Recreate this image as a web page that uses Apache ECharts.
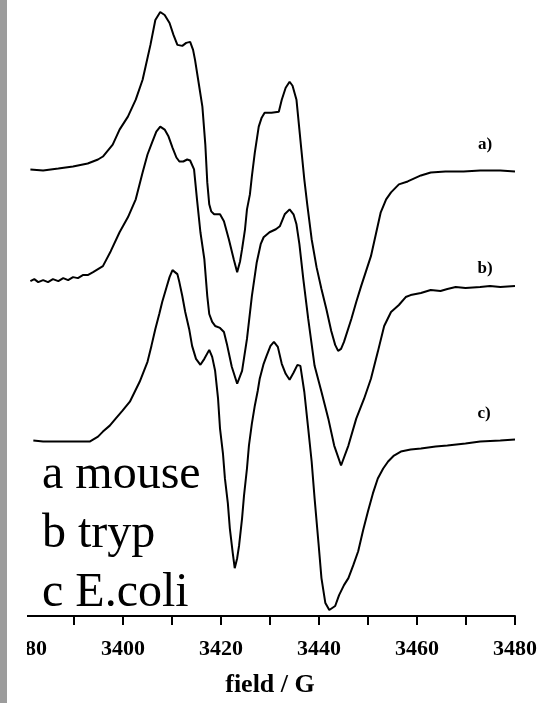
<!DOCTYPE html>
<html>
<head>
<meta charset="utf-8">
<script src="https://cdn.jsdelivr.net/npm/echarts@6/dist/echarts.min.js"></script>
<style>
html,body{margin:0;padding:0;background:#fff;}
#chart{width:558px;height:703px;}
</style>
</head>
<body>
<div id="chart"></div>
<script>
// field (G) and derivative signal (arbitrary units, offset spectra)
var fieldA = [3381.1,3383.7,3386.8,3389.8,3392.8,3394.9,3395.9,3397.9,3399.3,3401.0,3402.6,3404.0,3404.6,3405.6,3406.6,3407.6,3408.5,3409.5,3410.3,3411.1,3412.1,3412.9,3413.7,3414.3,3414.7,3415.5,3416.2,3416.8,3417.2,3417.6,3418.0,3418.6,3419.8,3420.6,3421.6,3422.6,3423.3,3423.9,3424.3,3424.9,3425.3,3425.9,3426.3,3426.9,3427.7,3428.3,3428.9,3430.3,3431.8,3432.4,3433.2,3434.0,3434.6,3435.4,3436.4,3437.0,3437.6,3438.5,3439.5,3440.5,3441.5,3442.5,3443.3,3443.9,3444.5,3445.1,3446.6,3447.6,3448.6,3449.6,3450.6,3451.6,3452.6,3453.7,3454.7,3456.3,3458.1,3460.8,3462.8,3465.8,3469.5,3472.9,3477.0,3480.0];
var mouse = [448,447,449,451,454,458,461,473,488,501,518,538,551,573,598,606,603,595,583,573,572,575,576,568,558,533,511,473,435,413,406,403,403,396,378,358,345,356,368,388,408,423,441,465,491,500,505,505,506,518,530,536,532,518,468,438,413,378,350,328,308,286,272,266,268,275,298,315,331,346,361,383,405,418,425,433,436,442,445,446,446,447,447,446];

var fieldB = [3381.1,3381.9,3382.7,3383.7,3384.7,3385.7,3386.8,3387.8,3388.8,3389.8,3390.8,3391.8,3392.8,3393.9,3394.9,3395.9,3397.5,3399.3,3401.0,3402.6,3404.0,3405.0,3406.0,3406.8,3407.6,3408.5,3409.3,3410.1,3410.9,3411.5,3412.3,3413.1,3413.7,3414.5,3415.1,3415.8,3416.6,3417.2,3417.6,3418.2,3418.8,3419.8,3420.6,3421.2,3422.2,3423.3,3424.3,3425.3,3426.3,3427.3,3428.1,3428.7,3429.9,3431.2,3432.0,3433.0,3434.0,3434.8,3435.4,3436.0,3436.8,3437.8,3439.1,3440.5,3441.9,3443.1,3444.5,3446.0,3447.6,3449.2,3450.6,3452.0,3453.3,3454.7,3456.3,3457.7,3458.7,3460.8,3462.8,3464.8,3466.2,3467.9,3469.9,3472.9,3474.9,3477.0,3480.0];
var tryp = [336,338,335,337,335,338,336,339,337,340,339,342,342,345,348,351,366,385,400,418,445,463,476,486,491,488,481,470,460,456,456,458,457,448,418,385,358,321,303,295,291,289,285,273,250,233,246,278,321,355,373,380,385,388,391,403,408,403,393,373,338,298,251,225,198,171,151,171,198,218,238,265,291,305,312,320,322,324,327,326,328,330,329,330,331,330,331];

var fieldC = [3381.7,3383.7,3386.4,3389.8,3393.2,3394.9,3395.9,3397.3,3398.5,3399.9,3401.4,3402.4,3403.4,3404.2,3405.0,3405.8,3406.6,3407.4,3408.0,3408.9,3409.5,3410.1,3410.5,3411.1,3411.5,3412.1,3412.7,3413.5,3414.1,3414.9,3415.8,3416.6,3417.6,3418.2,3418.8,3419.4,3419.8,3420.4,3420.8,3421.4,3421.8,3422.4,3422.8,3423.3,3423.7,3424.3,3424.7,3425.3,3425.7,3426.3,3426.9,3427.5,3427.9,3428.7,3429.3,3430.1,3430.8,3431.6,3432.4,3433.2,3434.0,3434.8,3435.6,3436.2,3437.0,3437.8,3438.5,3439.1,3439.9,3440.5,3441.3,3442.1,3442.5,3443.3,3444.1,3445.1,3446.0,3447.0,3448.0,3449.0,3450.0,3451.0,3452.0,3453.1,3454.1,3455.3,3456.7,3458.7,3460.8,3463.8,3466.2,3469.9,3472.9,3477.0,3480.0];
var ecoli = [176,175,175,175,175,180,185,191,198,206,215,225,235,245,255,271,288,303,315,330,340,347,348,343,335,321,305,288,271,258,252,258,267,260,246,218,188,163,138,113,88,63,48,58,71,98,121,148,171,193,211,226,238,253,261,271,275,270,253,243,237,244,252,251,225,188,155,118,73,38,13,6,5,10,21,31,38,51,65,86,105,123,138,148,155,161,165,167,168,170,171,173,175,176,177];

var seriesNames = ['a mouse', 'b tryp', 'c E.coli'];
var traceLabels = ['a)', 'b)', 'c)'];
var labelField = [3473.9, 3473.9, 3473.7];
var labelLevel = [473, 349, 203];
var xTicks = [3380, 3400, 3420, 3440, 3460, 3480];
var xName = 'field / G';

function pairs(xs, ys) {
  var out = [];
  for (var i = 0; i < xs.length; i++) out.push([xs[i], ys[i]]);
  return out;
}
var traces = [pairs(fieldA, mouse), pairs(fieldB, tryp), pairs(fieldC, ecoli)];

var serif = '"Liberation Serif", "Times New Roman", serif';

var chart = echarts.init(document.getElementById('chart'), null, {renderer: 'canvas'});
var series = traces.map(function (d, i) {
  return {
    name: seriesNames[i],
    type: 'line',
    data: d,
    showSymbol: false,
    symbol: 'none',
    lineStyle: {color: '#000', width: 2},
    z: 3,
    markPoint: {
      symbol: 'circle',
      symbolSize: 1,
      itemStyle: {color: 'rgba(0,0,0,0)'},
      label: {
        show: true, position: 'inside', formatter: traceLabels[i],
        color: '#000', fontFamily: serif, fontWeight: 'bold', fontSize: 17
      },
      data: [{coord: [labelField[i], labelLevel[i]]}]
    }
  };
});

chart.setOption({
  animation: false,
  backgroundColor: '#fff',
  grid: {left: 21.6, right: 43, top: 8, bottom: 85},
  xAxis: {
    type: 'value', min: 3380, max: 3480, interval: 10,
    name: xName, nameLocation: 'middle', nameGap: 56,
    nameTextStyle: {fontFamily: serif, fontWeight: 'bold', fontSize: 26, color: '#000'},
    axisLine: {show: true, lineStyle: {color: '#000', width: 2}},
    axisTick: {show: true, inside: false, length: 9, lineStyle: {color: '#000', width: 2}},
    axisLabel: {
      show: true, margin: 22, showMinLabel: true, showMaxLabel: true,
      color: '#000', fontFamily: serif, fontWeight: 'bold', fontSize: 22,
      formatter: function (v) { return xTicks.indexOf(v) >= 0 ? String(v) : ''; }
    },
    splitLine: {show: false}
  },
  yAxis: {type: 'value', min: 0, max: 610, show: false},
  series: series,
  graphic: [
    {type: 'rect', left: 7, top: 0, z: 100, shape: {width: 20, height: 703}, style: {fill: '#fff'}},
    {type: 'rect', left: 0, top: 0, z: 101, shape: {width: 7, height: 703}, style: {fill: '#9c9c9c'}},
    {type: 'text', left: 42, top: 451, z: 50, style: {text: 'a mouse', font: 'normal 48px ' + serif, fill: '#000'}},
    {type: 'text', left: 42, top: 510, z: 50, style: {text: 'b tryp', font: 'normal 48px ' + serif, fill: '#000'}},
    {type: 'text', left: 42, top: 569, z: 50, style: {text: 'c E.coli', font: 'normal 48px ' + serif, fill: '#000'}}
  ]
});
</script>
</body>
</html>
